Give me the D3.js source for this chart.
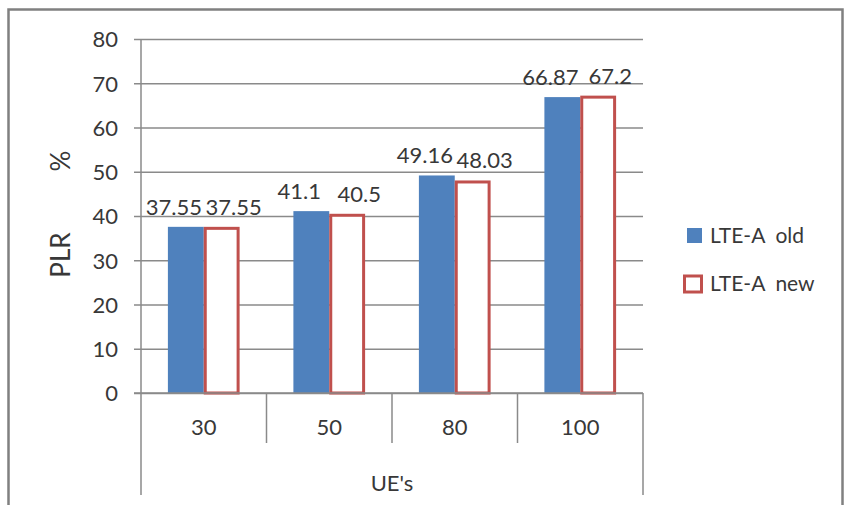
<!DOCTYPE html>
<html>
<head>
<meta charset="utf-8">
<script src="https://cdn.jsdelivr.net/npm/d3@7"></script>
<style>
  html, body { margin: 0; padding: 0; background: #ffffff; }
  svg text { font-family: Lato, "Open Sans", "Liberation Sans", sans-serif; fill: #383838; }
</style>
</head>
<body>
<svg id="chart" width="847" height="505"></svg>
<script>
// Packet loss ratio per number of UEs, old vs new LTE-A scheme
const categories = ["30", "50", "80", "100"];
const seriesNames = ["LTE-A  old", "LTE-A  new"];
const lteOld = [37.55, 41.1, 49.16, 66.87];
const lteNew = [37.55, 40.5, 48.03, 67.2];
const yTicks = [0, 10, 20, 30, 40, 50, 60, 70, 80];

const seriesValues = [lteOld, lteNew];
const blue = "#4f81bd";
const red = "#c0504d";
const axisGrey = "#8a8a8a";

const svg = d3.select("#chart");

// outer frame
svg.append("rect")
  .attr("x", 8.5).attr("y", 9.5)
  .attr("width", 834).attr("height", 520)
  .attr("fill", "#ffffff")
  .attr("stroke", "#808080")
  .attr("stroke-width", 2.5);

const plot = { left: 141, right: 643, top: 39, bottom: 393 };

const x = d3.scaleBand()
  .domain(categories)
  .range([plot.left, plot.right])
  .padding(0);

const xInner = d3.scaleBand()
  .domain(seriesNames)
  .range([0, x.bandwidth()])
  .paddingInner(0)
  .paddingOuter(0.75);

const y = d3.scaleLinear()
  .domain([0, 80])
  .range([plot.bottom, plot.top]);

// horizontal gridlines + left tick marks
const yAxis = d3.axisLeft(y)
  .tickValues(yTicks)
  .tickSize(-(plot.right - plot.left))
  .tickFormat(d3.format("d"));

const gy = svg.append("g")
  .attr("transform", `translate(${plot.left},0)`)
  .call(yAxis);
gy.select(".domain").remove();
gy.selectAll(".tick line")
  .attr("stroke", axisGrey)
  .attr("stroke-width", 1.3)
  .attr("x1", -7);
gy.selectAll(".tick text")
  .attr("x", -23)
  .attr("dy", "0.36em")
  .style("font-size", "22px")
  .attr("text-anchor", "end");

// bars
const rows = categories.map((c, i) => ({ cat: c, values: seriesValues.map((s, j) => ({ name: seriesNames[j], v: s[i], j })) }));

const groups = svg.append("g").selectAll("g")
  .data(rows)
  .join("g")
  .attr("transform", d => `translate(${x(d.cat)},0)`);

groups.selectAll("rect")
  .data(d => d.values)
  .join("rect")
  .attr("x", d => xInner(d.name) + (d.j === 1 ? 1.5 : 0))
  .attr("y", d => y(d.v) + (d.j === 1 ? 1.5 : 0))
  .attr("width", d => xInner.bandwidth() - (d.j === 1 ? 3 : 0))
  .attr("height", d => plot.bottom - y(d.v) - (d.j === 1 ? 1.5 : 0))
  .attr("fill", d => d.j === 0 ? blue : "#ffffff")
  .attr("stroke", d => d.j === 0 ? "none" : red)
  .attr("stroke-width", 3);

// value labels
groups.selectAll("text.val")
  .data(d => d.values)
  .join("text")
  .attr("class", "val")
  .attr("x", d => xInner(d.name) + xInner.bandwidth() / 2 + (d.j === 0 ? -12 : 12))
  .attr("y", d => y(d.v) - 12)
  .attr("text-anchor", "middle")
  .style("font-size", "22px")
  .text(d => String(d.v));

// axes lines: left/right verticals and category dividers
const axisG = svg.append("g").attr("stroke", axisGrey).attr("stroke-width", 1.5);
axisG.append("line")
  .attr("x1", plot.left).attr("x2", plot.left)
  .attr("y1", plot.top).attr("y2", 495);
axisG.append("line")
  .attr("x1", plot.right).attr("x2", plot.right)
  .attr("y1", plot.bottom).attr("y2", 495);
axisG.append("line")
  .attr("x1", plot.left - 7).attr("x2", plot.right)
  .attr("y1", plot.bottom).attr("y2", plot.bottom);
axisG.selectAll("line.div")
  .data(categories.slice(1))
  .join("line")
  .attr("class", "div")
  .attr("x1", d => x(d)).attr("x2", d => x(d))
  .attr("y1", plot.bottom).attr("y2", 443);

// category labels
svg.append("g").selectAll("text")
  .data(categories)
  .join("text")
  .attr("x", d => x(d) + x.bandwidth() / 2)
  .attr("y", 435)
  .attr("text-anchor", "middle")
  .style("font-size", "22px")
  .text(d => d);

// axis titles
svg.append("text")
  .attr("x", (plot.left + plot.right) / 2)
  .attr("y", 491)
  .attr("text-anchor", "middle")
  .style("font-size", "22px")
  .text("UE's");

svg.append("text")
  .attr("transform", "translate(70,255) rotate(-90)")
  .attr("text-anchor", "middle")
  .style("font-size", "26px")
  .text("PLR");
svg.append("text")
  .attr("transform", "translate(70,161) rotate(-90)")
  .attr("text-anchor", "middle")
  .style("font-size", "26px")
  .text("%");

// legend
const legend = svg.append("g").selectAll("g")
  .data(seriesNames)
  .join("g")
  .attr("transform", (d, i) => `translate(686,${228 + i * 48})`);
legend.append("rect")
  .attr("x", (d, i) => i === 0 ? 1 : -1.5)
  .attr("y", 0)
  .attr("width", (d, i) => i === 0 ? 15 : 17)
  .attr("height", (d, i) => i === 0 ? 15 : 16)
  .attr("fill", (d, i) => i === 0 ? blue : "#ffffff")
  .attr("stroke", (d, i) => i === 0 ? "none" : red)
  .attr("stroke-width", 3);
legend.append("text")
  .attr("x", 24)
  .attr("y", 15)
  .style("font-size", "21px")
  .style("white-space", "pre")
  .text(d => d);
</script>
</body>
</html>
